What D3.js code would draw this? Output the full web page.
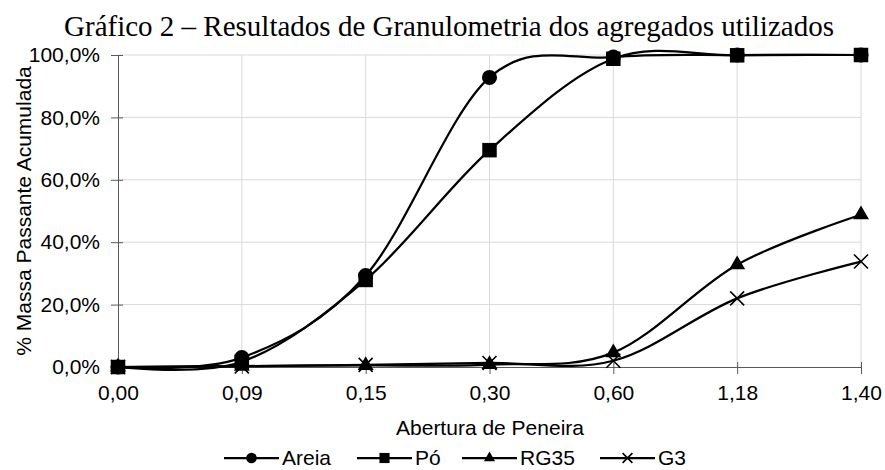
<!DOCTYPE html>
<html><head><meta charset="utf-8">
<script src="https://cdn.jsdelivr.net/npm/d3@7"></script>
<style>body{margin:0;background:#fff}</style>
</head><body>
<svg id="c" width="885" height="470"></svg>
<script>
const categories = ["0,00","0,09","0,15","0,30","0,60","1,18","1,40"];
const areia = [0, 3.0, 29.3, 92.8, 99.3, 100, 100];
const po    = [0, 1.7, 27.9, 69.5, 98.8, 99.9, 100];
const rg35  = [0, 0.3, 0.5, 0.8, 4.6, 32.8, 48.8];
const g3    = [0, 0.2, 0.7, 1.3, 2.0, 22.0, 33.8];
const yTicks = [0, 20, 40, 60, 80, 100];
const seriesNames = ["Areia","Pó","RG35","G3"];
const seriesSymbols = ["circle","square","triangle","cross"];

const series = [areia, po, rg35, g3].map((v,i)=>({name:seriesNames[i], sym:seriesSymbols[i], values:v}));

const SANS = "'Liberation Sans', Arial, sans-serif";
const SERIF = "'Liberation Serif', 'Times New Roman', serif";
const svg = d3.select("#c");
const L = 118, R = 861, T = 55, B = 367;
const x = d3.scalePoint().domain(categories).range([L, R]).padding(0);
const y = d3.scaleLinear().domain([0,100]).range([B, T]);
const fmt = v => v.toFixed(1).replace(".", ",") + "%";

// gridlines
svg.append("g").selectAll("line").data(yTicks.filter(d=>d>0)).join("line")
  .attr("x1", L).attr("x2", R).attr("y1", d=>y(d)).attr("y2", d=>y(d))
  .attr("stroke", "#d9d9d9").attr("stroke-width", 1);
svg.append("g").selectAll("line").data(categories.slice(1)).join("line")
  .attr("x1", d=>x(d)).attr("x2", d=>x(d)).attr("y1", T).attr("y2", B)
  .attr("stroke", "#d9d9d9").attr("stroke-width", 1);

// axes
const yAxis = svg.append("g").attr("transform", `translate(${L},0)`)
  .call(d3.axisLeft(y).tickValues(yTicks).tickFormat(fmt).tickSizeInner(5).tickSizeOuter(0).tickPadding(13));
yAxis.selectAll(".tick line").attr("x1", 5).attr("x2", -7);
const xAxis = svg.append("g").attr("transform", `translate(0,${B})`)
  .call(d3.axisBottom(x).tickSizeInner(5).tickSizeOuter(0).tickPadding(13));
xAxis.selectAll(".tick line").attr("y1", -5).attr("y2", 7);
[yAxis, xAxis].forEach(a=>{
  a.select(".domain").attr("stroke", "#595959");
  a.selectAll(".tick line").attr("stroke", "#595959");
  a.selectAll("text").attr("font-family", SANS).attr("font-size", 21).attr("fill","#000");
});
xAxis.selectAll(".tick:first-of-type line").remove();

// lines
const line = d3.line().x((d,i)=>x(categories[i])).y(d=>y(d)).curve(d3.curveCardinal.tension(0));
series.slice().reverse().forEach(s=>{
  svg.append("path").attr("d", line(s.values)).attr("fill","none").attr("stroke","#000").attr("stroke-width",2.25);
});

const symMap = {circle:d3.symbolCircle, square:d3.symbolSquare, triangle:d3.symbolTriangle};
function drawMarker(g, sym, cx, cy, scale){
  if(sym==="cross"){
    const r = 7*scale;
    g.append("path").attr("d", `M${cx-r},${cy-r}L${cx+r},${cy+r}M${cx-r},${cy+r}L${cx+r},${cy-r}`)
      .attr("stroke","#000").attr("stroke-width",1.6).attr("fill","none");
  } else {
    const size = {circle:180, square:210, triangle:110}[sym]*scale*scale;
    g.append("path").attr("d", d3.symbol().type(symMap[sym]).size(size)())
      .attr("transform", `translate(${cx},${cy})`).attr("fill","#000");
  }
}
series.slice().reverse().forEach(s=>{
  const g = svg.append("g");
  s.values.forEach((v,i)=>drawMarker(g, s.sym, x(categories[i]), y(v), 1));
});

// title
svg.append("text").attr("x", 449).attr("y", 36).attr("text-anchor","middle")
  .attr("font-family", SERIF).attr("font-size", 29)
  .text("Gráfico 2 – Resultados de Granulometria dos agregados utilizados");

// axis titles
svg.append("text").attr("transform", `translate(31,${(T+B)/2}) rotate(-90)`).attr("text-anchor","middle")
  .attr("font-family", SANS).attr("font-size", 21)
  .text("% Massa Passante Acumulada");
svg.append("text").attr("x", 490).attr("y", 435).attr("text-anchor","middle")
  .attr("font-family", SANS).attr("font-size", 21)
  .text("Abertura de Peneira");

// legend
const legX = [224, 357, 462, 600];
const lg = svg.append("g");
series.forEach((s,i)=>{
  const lx = legX[i], ly = 458;
  lg.append("line").attr("x1", lx).attr("x2", lx+55).attr("y1", ly).attr("y2", ly).attr("stroke","#000").attr("stroke-width",2.25);
  drawMarker(lg, s.sym, lx+27.5, ly, 0.7);
  lg.append("text").attr("x", lx+58).attr("y", ly+7).attr("font-family", SANS).attr("font-size",21).text(s.name);
});
</script>
</body></html>
